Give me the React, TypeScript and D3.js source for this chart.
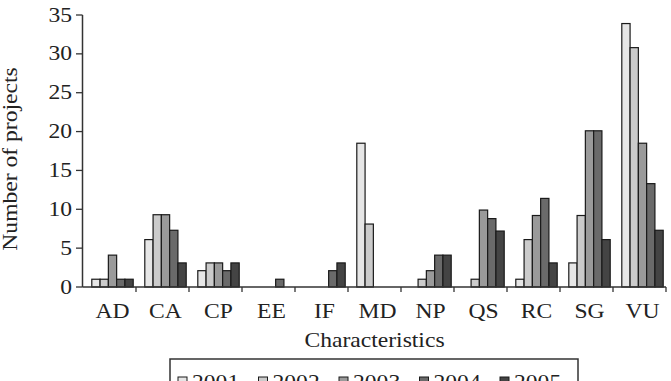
import React from 'react';
import * as d3 from 'd3';

const categories = ['AD', 'CA', 'CP', 'EE', 'IF', 'MD', 'NP', 'QS', 'RC', 'SG', 'VU'];
const years = ['2001', '2002', '2003', '2004', '2005'];

const s2001 = [1, 6.1, 2.1, 0, 0, 18.5, 0, 0, 1, 3.1, 33.9];
const s2002 = [1, 9.3, 3.1, 0, 0, 8.1, 1, 1, 6.1, 9.2, 30.8];
const s2003 = [4.1, 9.3, 3.1, 0, 0, 0, 2.1, 9.9, 9.2, 20.1, 18.5];
const s2004 = [1, 7.3, 2.1, 1, 2.1, 0, 4.1, 8.8, 11.4, 20.1, 13.3];
const s2005 = [1, 3.1, 3.1, 0, 3.1, 0, 4.1, 7.2, 3.1, 6.1, 7.3];

const yTicks = [0, 5, 10, 15, 20, 25, 30, 35];
const fills = ['#e6e6e6', '#cbcbcb', '#9a9a9a', '#6a6a6a', '#444444'];

const W = 671;
const H = 381;
const FONT = '"Liberation Serif", "Times New Roman", serif';
const STRETCH = 1.18;
// bar groups sit a little to the right of the category tick marks
const SHIFT = 3;

function Label({ x, y, size = 20, anchor = 'middle', rotate = 0, children }) {
  return (
    <g transform={`translate(${x},${y}) rotate(${rotate}) scale(${STRETCH},1)`}>
      <text textAnchor={anchor} fontSize={size} fontFamily={FONT} fill="#222">
        {children}
      </text>
    </g>
  );
}

export default function App() {
  const series = [s2001, s2002, s2003, s2004, s2005];
  const x = d3.scaleBand().domain(categories).range([83 + SHIFT, 666 + SHIFT]).padding(0);
  const bw = x.bandwidth();
  const xs = d3.scaleBand().domain(years).range([0, bw]).paddingInner(0).paddingOuter(0.7);
  const y = d3.scaleLinear().domain([0, 35]).range([287, 15]);

  const bars = [];
  categories.forEach((c, i) => {
    years.forEach((yr, j) => {
      const v = series[j][i];
      if (!v) return;
      bars.push(
        <rect
          key={`${c}-${yr}`}
          x={x(c) + xs(yr)}
          y={y(v)}
          width={xs.bandwidth()}
          height={y(0) - y(v)}
          fill={fills[j]}
          stroke="#1a1a1a"
          strokeWidth={1.2}
        />
      );
    });
  });

  const legendX = [178, 258.5, 339, 419.5, 500];

  return (
    <svg width={W} height={H} style={{ position: 'absolute', left: 0, top: 0, background: '#fff' }}>
      {bars}

      {/* y axis */}
      <line x1={82.5} x2={82.5} y1={y(35)} y2={y(0)} stroke="#333" strokeWidth={1.5} />
      {yTicks.map(t => (
        <g key={t}>
          <line x1={76} x2={82.5} y1={y(t)} y2={y(t)} stroke="#333" strokeWidth={1.3} />
          <Label x={72} y={y(t) + 6.5} anchor="end">{t}</Label>
        </g>
      ))}
      <Label x={17} y={159} rotate={-90}>Number of projects</Label>

      {/* x axis */}
      <line x1={82.5} x2={666} y1={y(0)} y2={y(0)} stroke="#333" strokeWidth={1.5} />
      {categories.map(c => (
        <line key={c} x1={x(c) + bw - SHIFT} x2={x(c) + bw - SHIFT} y1={y(0)} y2={y(0) + 5} stroke="#333" strokeWidth={1.3} />
      ))}
      {categories.map(c => (
        <Label key={c} x={x(c) + bw / 2} y={318}>{c}</Label>
      ))}
      <Label x={374.5} y={347}>Characteristics</Label>

      {/* legend */}
      <rect x={170} y={359} width={408} height={40} fill="none" stroke="#333" strokeWidth={1.5} />
      {years.map((yr, j) => (
        <g key={yr}>
          <rect x={legendX[j]} y={377} width={9} height={10} fill={fills[j]} stroke="#1a1a1a" strokeWidth={1} />
          <Label x={legendX[j] + 14} y={389} anchor="start">{yr}</Label>
        </g>
      ))}
    </svg>
  );
}
